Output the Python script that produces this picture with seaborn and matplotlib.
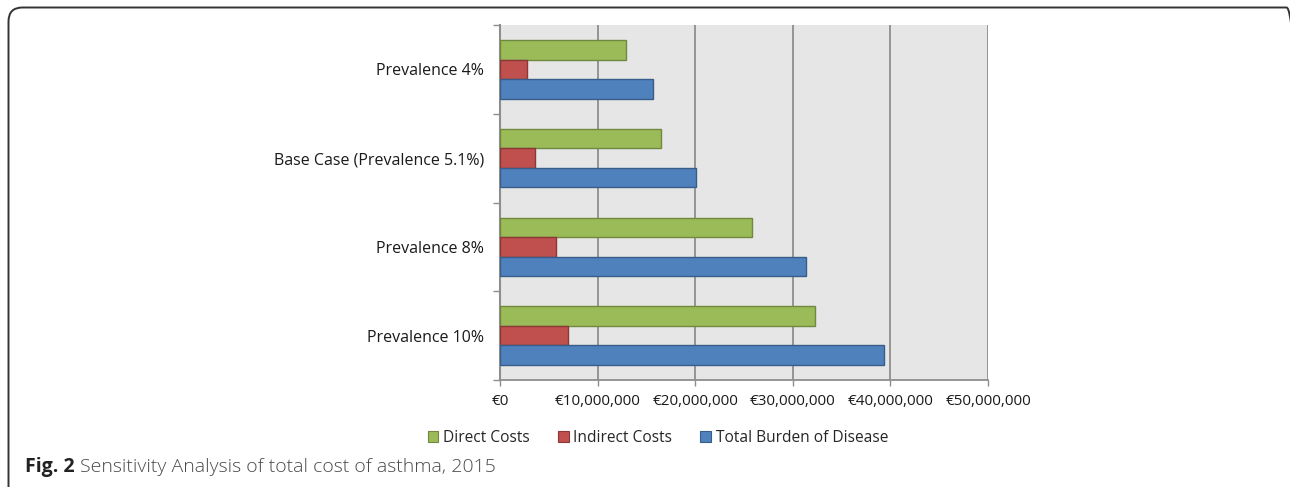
import matplotlib
matplotlib.use("Agg")
import matplotlib.pyplot as plt
import seaborn as sns
import pandas as pd
import numpy as np
from matplotlib.patches import FancyBboxPatch
from matplotlib.transforms import IdentityTransform
from matplotlib.ticker import FuncFormatter, FixedLocator

categories = ["Prevalence 4%", "Base Case (Prevalence 5.1%)", "Prevalence 8%", "Prevalence 10%"]
series = ["Direct Costs", "Indirect Costs", "Total Burden of Disease"]
direct_costs = [12.9e6, 16.5e6, 25.8e6, 32.3e6]
indirect_costs = [2.8e6, 3.6e6, 5.7e6, 7.0e6]
total_burden = [15.7e6, 20.1e6, 31.4e6, 39.3e6]
x_ticks = [0, 10e6, 20e6, 30e6, 40e6, 50e6]

fills = ["#9BBB59", "#C0504D", "#4F81BD"]
edges = ["#71893F", "#8C3836", "#385D8A"]

rows = []
for s, vals in zip(series, [direct_costs, indirect_costs, total_burden]):
    for c, v in zip(categories, vals):
        rows.append({"category": c, "series": s, "value": v})
df = pd.DataFrame(rows)

sns.set_style("white")
plt.rcParams["font.family"] = ["Open Sans", "DejaVu Sans"]

W, H = 1290, 487
fig = plt.figure(figsize=(W / 100, H / 100), dpi=100)
ax = fig.add_axes([500 / W, 1 - 380 / H, 488 / W, 355 / H])
ax.set_facecolor("#E6E6E6")

sns.barplot(data=df, y="category", x="value", hue="series", order=categories,
            hue_order=series, palette=fills, orient="h", width=0.66,
            ax=ax, legend=True, saturation=1)

for cont, ec in zip(ax.containers, edges):
    for bar in cont:
        bar.set_edgecolor(ec)
        bar.set_linewidth(1.0)
        bar.set_zorder(3)

ax.set_xlim(0, 50e6)
ax.set_ylim(len(categories) - 0.5, -0.5)
ax.set_xticks(x_ticks)
ax.xaxis.set_major_formatter(FuncFormatter(lambda v, p: "€{:,.0f}".format(v)))
ax.grid(axis="x", color="#8E8E8E", linewidth=1.3, zorder=0)
ax.set_axisbelow(True)

# category ticks at boundaries, labels at centers
ax.yaxis.set_major_locator(FixedLocator(np.arange(-0.5, len(categories), 1.0)))
ax.yaxis.set_minor_locator(FixedLocator(np.arange(len(categories))))
ax.yaxis.set_major_formatter(FuncFormatter(lambda v, p: ""))
ax.yaxis.set_minor_formatter(FuncFormatter(lambda v, p: categories[int(round(v))]))
ax.tick_params(axis="y", which="major", length=5, width=1, color="#8E8E8E", left=True)
ax.tick_params(axis="y", which="minor", length=0, pad=11.5, labelsize=11.5, labelcolor="#1a1a1a")
ax.tick_params(axis="x", which="major", length=4, width=1, color="#8E8E8E", bottom=True,
               labelsize=11, labelcolor="#1a1a1a", pad=6)
ax.set_xlabel("")
ax.set_ylabel("")

for side in ["top", "right"]:
    ax.spines[side].set_visible(False)
ax.spines["left"].set_color("#8E8E8E")
ax.spines["left"].set_linewidth(1.5)
ax.spines["bottom"].set_color("#8E8E8E")
ax.spines["bottom"].set_linewidth(1.3)

leg = ax.legend(loc="center", bbox_to_anchor=(658 / W, 1 - 438 / H),
                bbox_transform=fig.transFigure, ncol=3, frameon=False,
                fontsize=11.2, handlelength=0.7, handleheight=0.7,
                handletextpad=0.3, columnspacing=1.8)
for h, ec in zip(leg.legend_handles, edges):
    h.set_edgecolor(ec)
    h.set_linewidth(0.8)

# caption
t1 = fig.text(25 / W, 1 - 467 / H, "Fig. 2", fontsize=14, fontweight="bold",
              color="#222222", va="center", ha="left")
fig.canvas.draw()
bb = t1.get_window_extent()
fig.text((bb.x1 + 5) / W, 1 - 467 / H, "Sensitivity Analysis of total cost of asthma, 2015",
         fontsize=14, color="#4a4a4a", va="center", ha="left", fontweight="light")

# rounded frame (right edge falls outside the image, as in the reference)
frame = FancyBboxPatch((8.5, -30), 1292, H - 7.5 + 30,
                       boxstyle="round,pad=0,rounding_size=14",
                       transform=IdentityTransform(), fill=False,
                       edgecolor="#333333", linewidth=1.4)
fig.add_artist(frame)

fig.savefig("out.png", dpi=100)
